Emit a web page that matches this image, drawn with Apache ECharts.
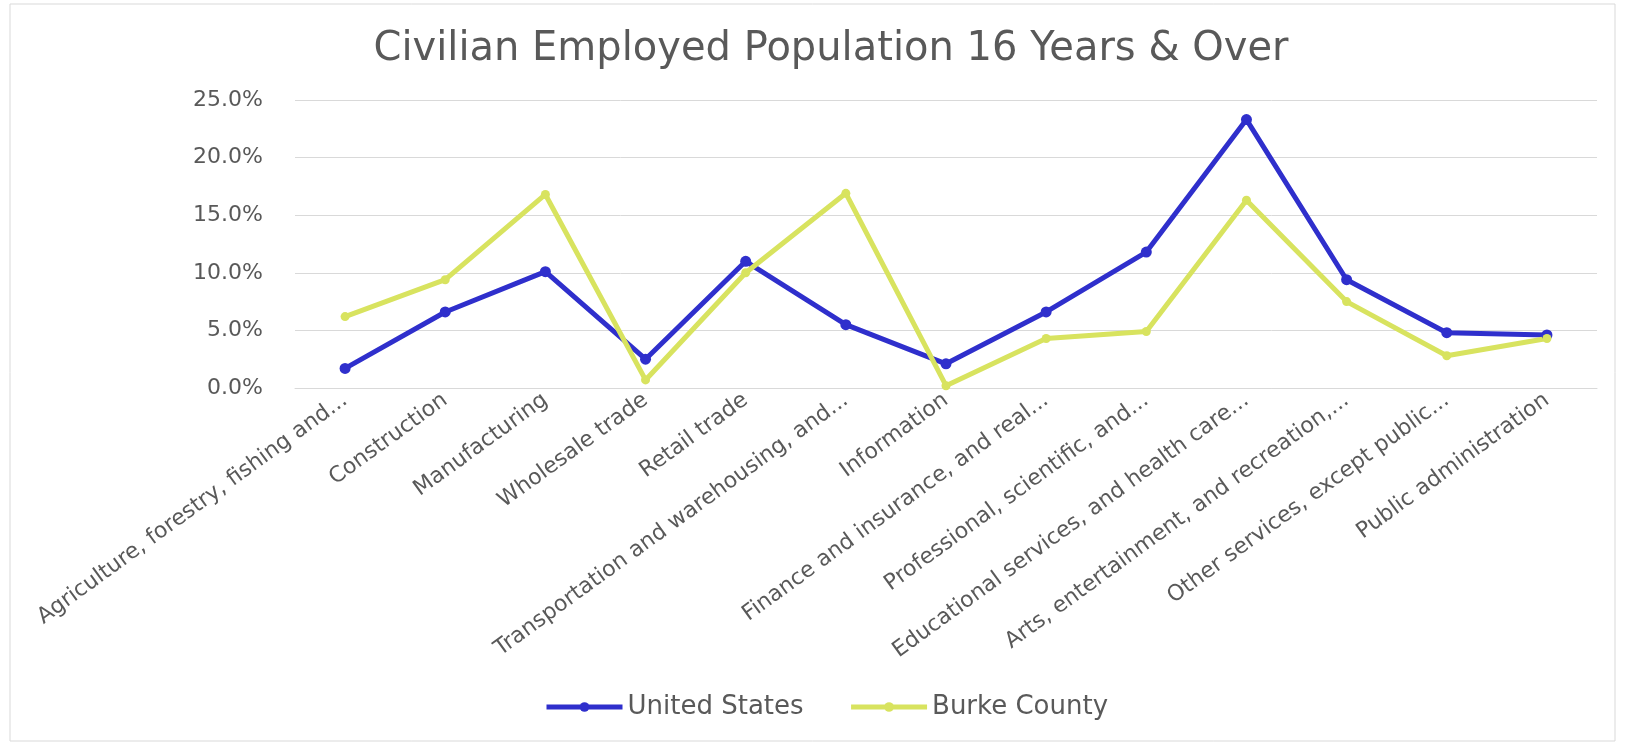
<!DOCTYPE html>
<html>
<head>
<meta charset="utf-8">
<script src="https://cdn.jsdelivr.net/npm/echarts@6/dist/echarts.min.js"></script>
<style>
html,body{margin:0;padding:0;background:#fff;}
#c{width:1630px;height:743px;}
</style>
</head>
<body>
<div id="c"></div>
<script>
const categories = [
  "Agriculture, forestry, fishing and...",
  "Construction",
  "Manufacturing",
  "Wholesale trade",
  "Retail trade",
  "Transportation and warehousing, and...",
  "Information",
  "Finance and insurance, and real...",
  "Professional, scientific, and...",
  "Educational services, and health care...",
  "Arts, entertainment, and recreation,...",
  "Other services, except public...",
  "Public administration"
];
const unitedStates = [1.7, 6.6, 10.1, 2.5, 11.0, 5.5, 2.1, 6.6, 11.8, 23.3, 9.4, 4.8, 4.6];
const burkeCounty = [6.2, 9.4, 16.8, 0.7, 10.0, 16.9, 0.2, 4.3, 4.9, 16.3, 7.5, 2.8, 4.3];
const seriesNames = ["United States", "Burke County"];
const yTicks = {min: 0, max: 25, interval: 5};

const FONT = "DejaVu Sans";
const chart = echarts.init(document.getElementById('c'), null, {renderer: 'canvas'});
chart.setOption({
  animation: false,
  backgroundColor: '#ffffff',
  title: {
    text: 'Civilian Employed Population 16 Years & Over',
    left: 826,
    textAlign: 'center',
    top: 25,
    textStyle: {fontFamily: FONT, fontSize: 40, fontWeight: 'normal', color: '#595959'}
  },
  graphic: [{
    type: 'rect',
    shape: {x: 10, y: 4, width: 1605, height: 737},
    style: {fill: 'none', stroke: '#d9d9d9', lineWidth: 1}
  }],
  legend: {
    top: 689,
    left: 539,
    itemWidth: 76,
    itemHeight: 12,
    itemGap: 45,
    lineStyle: {width: 5},
    textStyle: {fontFamily: FONT, fontSize: 26, color: '#595959'},
    data: seriesNames
  },
  grid: {left: 295, right: 33, top: 100, bottom: 355},
  xAxis: {
    type: 'category',
    data: categories,
    boundaryGap: true,
    axisLine: {lineStyle: {color: '#d9d9d9'}},
    axisTick: {show: false},
    axisLabel: {rotate: 36, interval: 0, margin: 10, fontFamily: FONT, fontSize: 22, color: '#595959'}
  },
  yAxis: {
    type: 'value',
    min: yTicks.min, max: yTicks.max, interval: yTicks.interval,
    axisLine: {show: false},
    axisTick: {show: false},
    splitLine: {lineStyle: {color: '#d9d9d9'}},
    axisLabel: {margin: 32, fontFamily: FONT, fontSize: 22, color: '#595959',
      formatter: v => v.toFixed(1) + '%'}
  },
  series: [
    {
      name: seriesNames[0], type: 'line', data: unitedStates,
      symbol: 'circle', symbolSize: 11,
      lineStyle: {width: 5, color: '#2f2fcc'},
      itemStyle: {color: '#2f2fcc'}
    },
    {
      name: seriesNames[1], type: 'line', data: burkeCounty,
      symbol: 'circle', symbolSize: 9,
      lineStyle: {width: 5, color: '#d8e35f'},
      itemStyle: {color: '#d8e35f'}
    }
  ]
});
</script>
</body>
</html>
